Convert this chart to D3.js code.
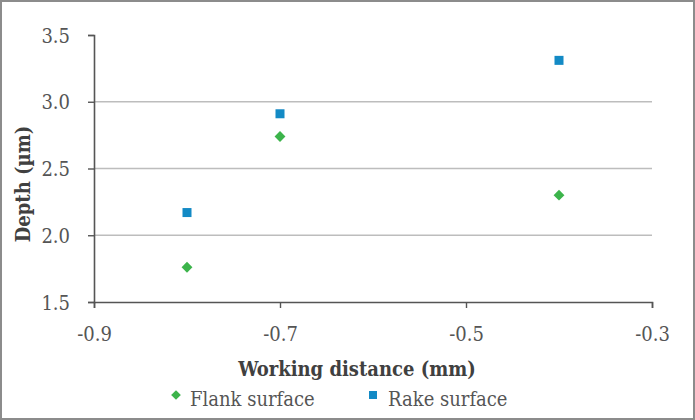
<!DOCTYPE html>
<html>
<head>
<meta charset="utf-8">
<script src="https://cdn.jsdelivr.net/npm/d3@7"></script>
<style>
  html, body { margin: 0; padding: 0; background: #fff; }
  svg { display: block; }
  text { font-stretch: condensed; }
</style>
</head>
<body>
<svg id="chart" width="695" height="420"></svg>
<script>
// ---- data ----
const workingDistance = [-0.8, -0.7, -0.4];
const flankSurface = [1.76, 2.74, 2.30];
const rakeSurface = [2.17, 2.91, 3.31];
const xTicks = [-0.9, -0.7, -0.5, -0.3];
const yTicks = [1.5, 2.0, 2.5, 3.0, 3.5];
const seriesNames = ["Flank surface", "Rake surface"];

// ---- layout ----
const W = 695, H = 420;
const margin = { left: 94, right: 43, top: 35, bottom: 118 };
const svg = d3.select("#chart");
const green = "#3cb44b", blue = "#138ac5";
const FS = 20;
const FONT = "DejaVu Serif";

svg.append("rect").attr("x", 1).attr("y", 1).attr("width", W - 2).attr("height", H - 2)
  .attr("fill", "#fff").attr("stroke", "#8c8c8c").attr("stroke-width", 2);

const x = d3.scaleLinear().domain([-0.9, -0.3]).range([margin.left, W - margin.right]);
const y = d3.scaleLinear().domain([1.5, 3.5]).range([H - margin.bottom, margin.top]);

// gridlines
svg.append("g").selectAll("line").data(yTicks.filter(t => t > 1.5 && t < 3.5)).join("line")
  .attr("x1", x(-0.9)).attr("x2", x(-0.3))
  .attr("y1", d => y(d)).attr("y2", d => y(d))
  .attr("stroke", "#bdbdbd").attr("stroke-width", 1.3);

// y axis
const yAxis = svg.append("g").attr("transform", `translate(${x(-0.9)},0)`)
  .call(d3.axisLeft(y).tickValues(yTicks).tickFormat(d3.format(".1f")).tickSize(6).tickPadding(18));
// x axis
const xAxis = svg.append("g").attr("transform", `translate(0,${y(1.5)})`)
  .call(d3.axisBottom(x).tickValues(xTicks).tickFormat(d3.format(".1f")).tickSize(6).tickPadding(19));

[yAxis, xAxis].forEach(g => {
  g.attr("font-family", FONT).attr("font-size", FS);
  g.select(".domain").attr("stroke", "#555").attr("stroke-width", 1.6);
  g.selectAll(".tick line").attr("stroke", "#555").attr("stroke-width", 1.4);
  g.selectAll(".tick text").attr("fill", "#555");
});
xAxis.selectAll(".tick text").text(d => d3.format(".1f")(d).replace("−", "-"));
yAxis.selectAll(".tick text").attr("dy", "0.35em");

// axis titles
svg.append("text").attr("x", 357).attr("y", 376).attr("text-anchor", "middle")
  .attr("font-family", FONT).attr("font-weight", "bold").attr("font-size", FS).attr("fill", "#404040")
  .text("Working distance (mm)");
svg.append("text").attr("transform", "translate(30,184) rotate(-90)").attr("text-anchor", "middle")
  .attr("font-family", FONT).attr("font-weight", "bold").attr("font-size", FS).attr("fill", "#404040")
  .text("Depth (µm)");

// markers
const diamond = d3.symbol().type(d3.symbolDiamond2).size(75);
svg.append("g").selectAll("path").data(workingDistance.map((d, i) => [d, flankSurface[i]])).join("path")
  .attr("d", diamond).attr("transform", d => `translate(${x(d[0])},${y(d[1])})`).attr("fill", green);
svg.append("g").selectAll("rect").data(workingDistance.map((d, i) => [d, rakeSurface[i]])).join("rect")
  .attr("x", d => x(d[0]) - 4.5).attr("y", d => y(d[1]) - 4.5).attr("width", 9).attr("height", 9)
  .attr("fill", blue);

// legend
const lg = svg.append("g");
lg.append("path").attr("d", d3.symbol().type(d3.symbolDiamond2).size(60)).attr("transform", "translate(176,395)").attr("fill", green);
lg.append("text").attr("x", 190).attr("y", 406).attr("font-family", FONT).attr("font-size", FS).attr("fill", "#555").text(seriesNames[0]);
lg.append("rect").attr("x", 369).attr("y", 391).attr("width", 8).attr("height", 8).attr("fill", blue);
lg.append("text").attr("x", 388).attr("y", 406).attr("font-family", FONT).attr("font-size", FS).attr("fill", "#555").text(seriesNames[1]);
</script>
</body>
</html>
